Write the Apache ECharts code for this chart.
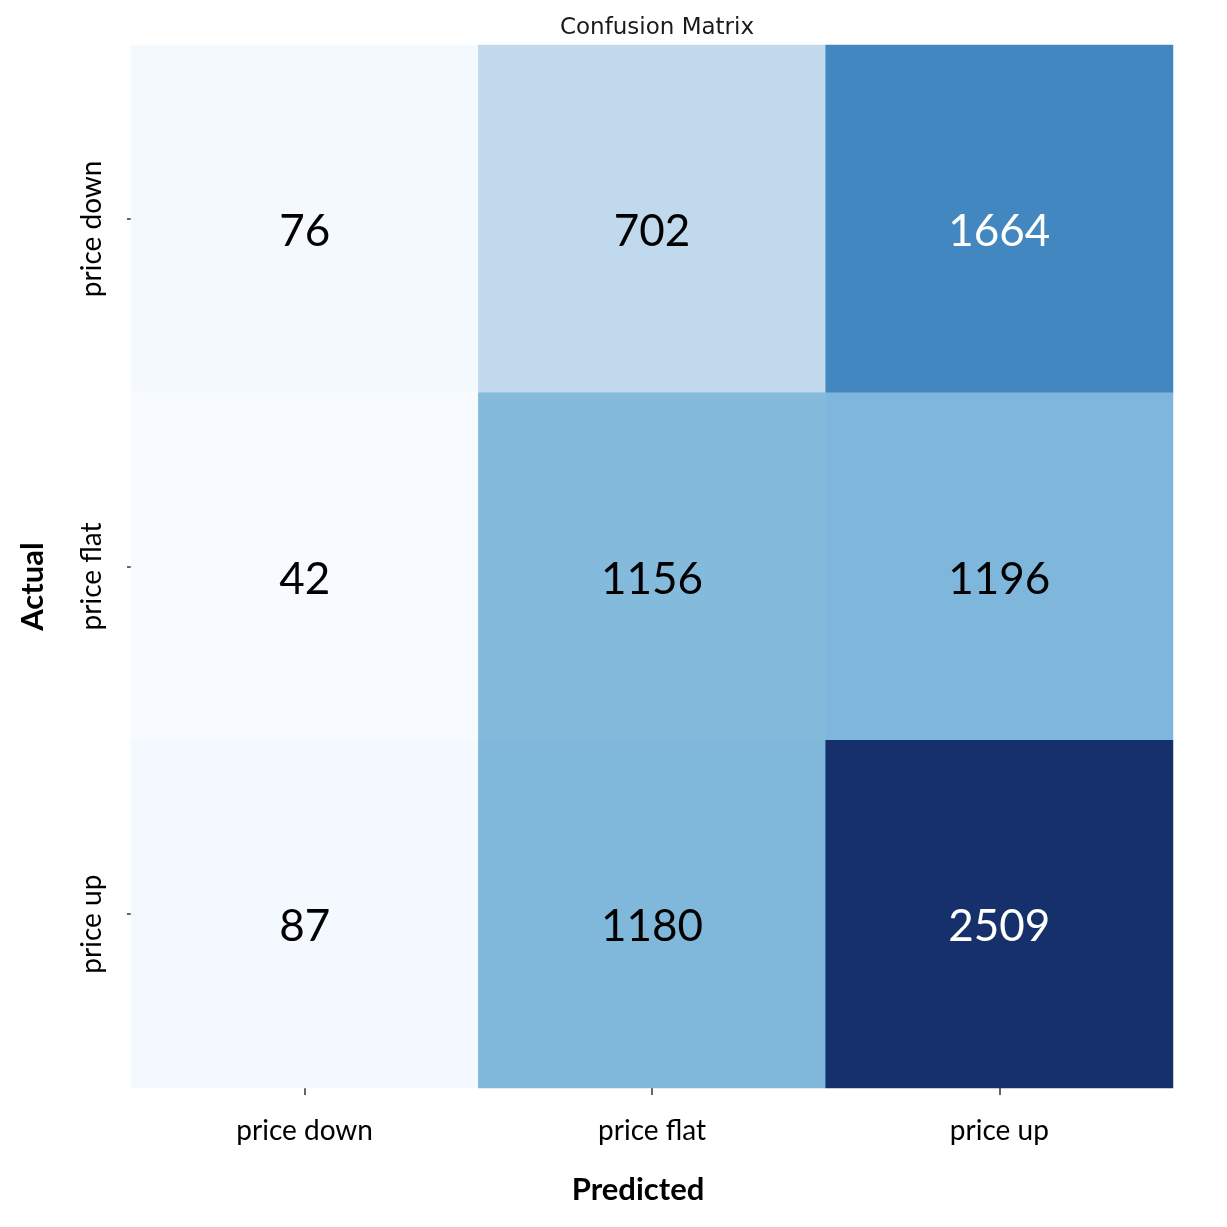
<!DOCTYPE html>
<html>
<head>
<meta charset="utf-8">
<script src="https://cdn.jsdelivr.net/npm/echarts@6/dist/echarts.min.js"></script>
<style>
  html, body { margin: 0; padding: 0; background: #fff; }
  #chart { width: 1227px; height: 1227px; }
</style>
</head>
<body>
<div id="chart"></div>
<script>
// 類別與數值
const predicted = ['price down', 'price flat', 'price up'];
const actual = ['price down', 'price flat', 'price up'];
// 每列為 actual，每欄為 predicted
const rowDown = [76, 702, 1664];
const rowFlat = [42, 1156, 1196];
const rowUp = [87, 1180, 2509];
const rows = [rowDown, rowFlat, rowUp];

// Blues 色階（略微調淡，貼近參考圖）
const blues = ['#f7fbff', '#deebf7', '#c6dbef', '#a0cae2', '#72b0d8', '#4a8fc5', '#2a70b0', '#14509a', '#15306a'];

const cells = [];
rows.forEach((row, r) => {
  row.forEach((v, c) => cells.push([c, r, v]));
});
const allValues = rows.flat();
const vMin = Math.min(...allValues);
const vMax = Math.max(...allValues);

const chart = echarts.init(document.getElementById('chart'));

const labelFont = 'Lato, "Open Sans", sans-serif';

chart.setOption({
  animation: false,
  title: {
    text: 'Confusion Matrix',
    left: 652,
    textAlign: 'center',
    top: 12,
    textStyle: { fontFamily: 'DejaVu Sans', fontSize: 23, fontWeight: 'normal', color: '#1a1a1a' },
  },
  grid: { left: 131, top: 45, width: 1042, height: 1043 },
  xAxis: {
    type: 'category',
    data: predicted,
    name: 'Predicted',
    nameLocation: 'middle',
    nameGap: 86,
    nameTextStyle: { fontFamily: labelFont, fontSize: 31, fontWeight: 'bold', color: '#000', padding: [0, 28, 0, 0] },
    axisLine: { show: false },
    axisTick: { show: true, alignWithLabel: true, length: 7, lineStyle: { color: '#333', width: 1.5 } },
    axisLabel: { margin: 29, fontFamily: labelFont, fontSize: 28, color: '#000' },
  },
  yAxis: {
    type: 'category',
    data: actual,
    inverse: true,
    name: 'Actual',
    nameLocation: 'middle',
    nameGap: 83,
    nameRotate: 90,
    nameTextStyle: { fontFamily: labelFont, fontSize: 31, fontWeight: 'bold', color: '#000', padding: [0, 40, 0, 0] },
    axisLine: { show: false },
    axisTick: { show: true, alignWithLabel: true, length: 4, lineStyle: { color: '#333', width: 1.5 } },
    axisLabel: { margin: 25, rotate: 90, fontFamily: labelFont, fontSize: 28, color: '#000', padding: [0, 20, 0, 0] },
  },
  visualMap: {
    show: false,
    type: 'continuous',
    min: vMin,
    max: vMax,
    dimension: 2,
    inRange: { color: blues },
  },
  series: [{
    type: 'heatmap',
    data: cells.map((d) => ({
      value: d,
      // 深色格子使用白字
      label: { color: d[2] > (vMin + vMax) / 2 ? '#fff' : '#000' },
    })),
    label: {
      show: true,
      fontFamily: labelFont,
      fontSize: 44,
      offset: [0, 13],
      formatter: (p) => String(p.value[2]),
    },
    emphasis: { disabled: true },
  }],
});
</script>
</body>
</html>
